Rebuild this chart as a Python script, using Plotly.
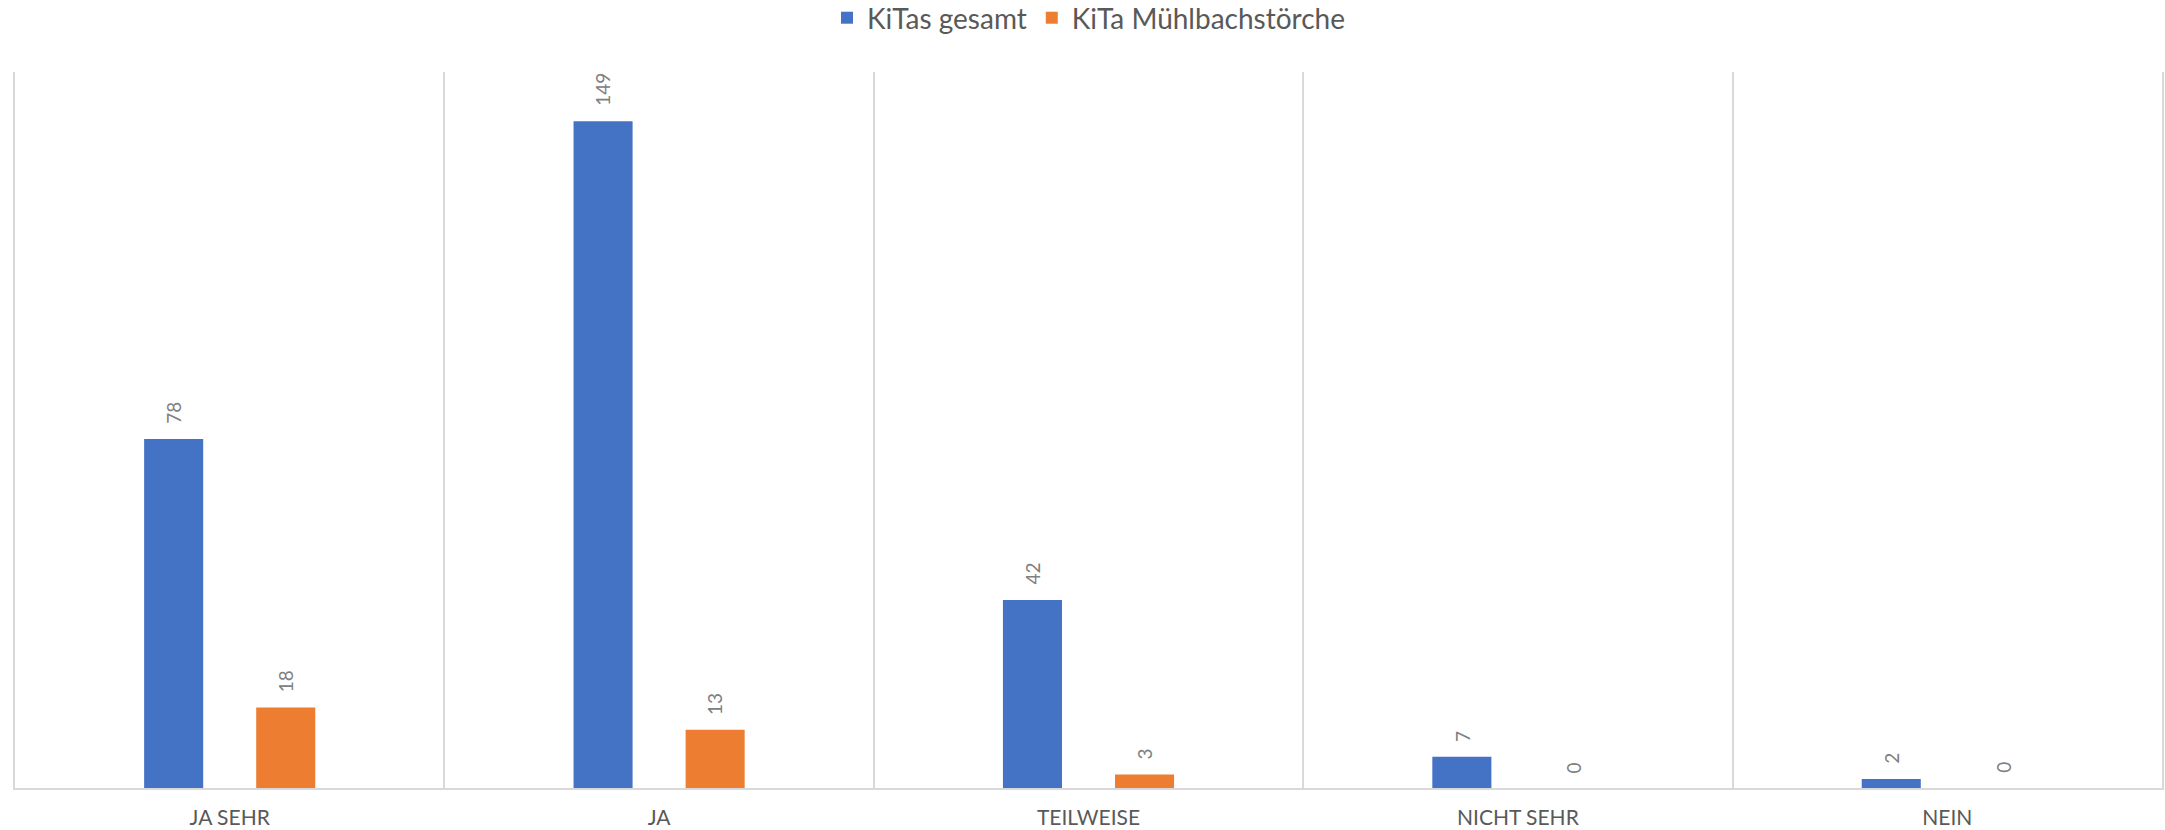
import plotly.graph_objects as go

categories = ["JA SEHR", "JA", "TEILWEISE", "NICHT SEHR", "NEIN"]
kitas_gesamt = [78, 149, 42, 7, 2]
kita_muehlbach = [18, 13, 3, 0, 0]
series_names = ["KiTas gesamt", "KiTa Mühlbachstörche"]
colors = ["#4472C4", "#ED7D31"]

FONT = "Lato"

fig = go.Figure()
for name, vals, col in zip(series_names, [kitas_gesamt, kita_muehlbach], colors):
    fig.add_trace(go.Bar(x=categories, y=vals, name=name, marker_color=col,
                         marker_line_width=0))

annotations = []
for shift, vals in zip([-56, 56], [kitas_gesamt, kita_muehlbach]):
    for c, v in zip(categories, vals):
        annotations.append(dict(x=c, y=v, xref="x", yref="y", text=str(v),
                                showarrow=False, textangle=-90, xshift=shift,
                                yanchor="bottom", yshift=13,
                                font=dict(family=FONT, size=19, color="#808080")))

fig.update_layout(
    width=2165, height=830,
    margin=dict(l=15, r=3, t=72, b=42, autoexpand=False),
    paper_bgcolor="white", plot_bgcolor="white",
    barmode="group", bargap=0.478, bargroupgap=0.473,
    annotations=annotations,
    legend=dict(orientation="h", x=0.5, xanchor="center", y=1.0754, yanchor="middle",
                font=dict(family=FONT, size=28, color="#595959"),
                itemclick=False),
    xaxis=dict(tickson="boundaries", showgrid=True, gridcolor="#d9d9d9", gridwidth=2,
               showline=True, linecolor="#d9d9d9", linewidth=2, ticks="",
               ticklabelstandoff=10,
               tickfont=dict(family=FONT, size=21, color="#595959")),
    yaxis=dict(range=[0, 160], showgrid=False, zeroline=False, showticklabels=False,
               showline=True, mirror=True, linecolor="#d9d9d9", linewidth=2, ticks=""),
)

fig.write_html("out.html", config={"displayModeBar": False},
               post_script="document.body.style.margin='0px';document.body.style.overflow='hidden';")
